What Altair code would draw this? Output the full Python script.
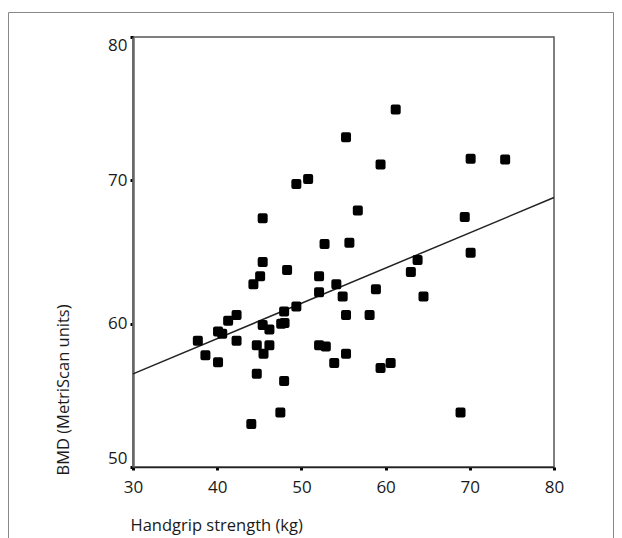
import altair as alt
import pandas as pd

# Data
grip = [37.7, 38.6, 40.1, 40.6, 40.1, 41.3, 42.3, 42.3, 44.05, 44.3,
        44.7, 44.7, 45.1, 45.4, 45.4, 45.4, 45.5, 46.2, 46.2, 47.5,
        47.6, 48.0, 47.95, 47.95, 48.3, 49.4, 49.4, 50.8, 52.1, 52.1,
        52.1, 52.9, 52.75, 53.9, 54.15, 54.9, 55.3, 55.3, 55.3, 55.7,
        56.7, 58.1, 58.85, 59.4, 59.4, 60.6, 61.2, 63.0, 63.8, 64.5,
        68.9, 69.4, 70.1, 70.1, 74.2]
bmd = [58.8, 57.8, 59.45, 59.3, 57.3, 60.2, 60.6, 58.8, 53.0, 62.75,
       58.5, 56.5, 63.3, 64.3, 67.35, 59.9, 57.9, 59.6, 58.5, 53.8,
       60.0, 60.05, 60.85, 56.0, 63.75, 61.2, 69.75, 70.1, 63.3, 62.2,
       58.5, 58.4, 65.55, 57.25, 62.75, 61.9, 60.6, 57.9, 73.0, 65.65,
       67.9, 60.6, 62.4, 71.1, 56.9, 57.25, 74.95, 63.6, 64.45, 61.9,
       53.8, 67.45, 71.5, 64.95, 71.45]

fit_x = [30, 80]
fit_y = [56.5, 68.8]

x_ticks = [30, 40, 50, 60, 70, 80]
y_ticks = [50, 60, 70, 80]

pts = pd.DataFrame({"grip": grip, "bmd": bmd})
fit = pd.DataFrame({"grip": fit_x, "bmd": fit_y})
frame = pd.DataFrame({"a": [0]})

FONT = "Open Sans"

xs = alt.Scale(domain=[30, 80], nice=False, zero=False)
ys = alt.Scale(domain=[50, 80], nice=False, zero=False)

xaxis = alt.Axis(
    values=x_ticks, title="Handgrip strength (kg)", grid=False,
    domainColor="#222", domainWidth=1.5,
    tickColor="#000", tickSize=3, tickWidth=3,
    labelFont=FONT, labelFontSize=17, labelColor="#1a1a1a", labelPadding=9,
    labelFlush=False,
    titleFont=FONT, titleFontSize=16.5, titleFontWeight="normal", titleColor="#1a1a1a",
    titleAnchor="start", titleAlign="left", titleBaseline="middle",
    titleX=-3, titleY=58,
)
yaxis = alt.Axis(
    values=y_ticks, title="BMD (MetriScan units)", grid=False,
    domainColor="#666", domainWidth=2.5,
    tickColor="#000", tickSize=3, tickWidth=3,
    labelFont=FONT, labelFontSize=17, labelColor="#1a1a1a", labelPadding=3,
    labelFlush=True,
    titleFont=FONT, titleFontSize=16.5, titleFontWeight="normal", titleColor="#1a1a1a",
    titleAngle=-90, titleAlign="left", titleBaseline="middle",
    titleX=-70, titleY=438,
)

points = alt.Chart(pts).mark_square(
    size=36, color="#000", filled=True, opacity=1,
    stroke="#000", strokeWidth=4, strokeJoin="round"
).encode(
    x=alt.X("grip:Q", scale=xs, axis=xaxis),
    y=alt.Y("bmd:Q", scale=ys, axis=yaxis),
)

line = alt.Chart(fit).mark_line(color="#222", strokeWidth=1.5).encode(
    x=alt.X("grip:Q", scale=xs),
    y=alt.Y("bmd:Q", scale=ys),
)

border = alt.Chart(frame).mark_rect(
    fill=None, stroke="#888", strokeWidth=1
).encode(
    x=alt.value(-124.5), x2=alt.value(480.5),
    y=alt.value(-24.5), y2=alt.value(530),
)

chart = alt.layer(border, line, points).properties(
    width=421, height=430,
    autosize=alt.AutoSizeParams(type="none"),
    padding={"left": 125, "top": 29, "right": 60, "bottom": 71},
).configure_view(
    stroke="#555", strokeWidth=1.5
)

chart.save("out.html", embed_options={"renderer": "svg", "actions": False})
